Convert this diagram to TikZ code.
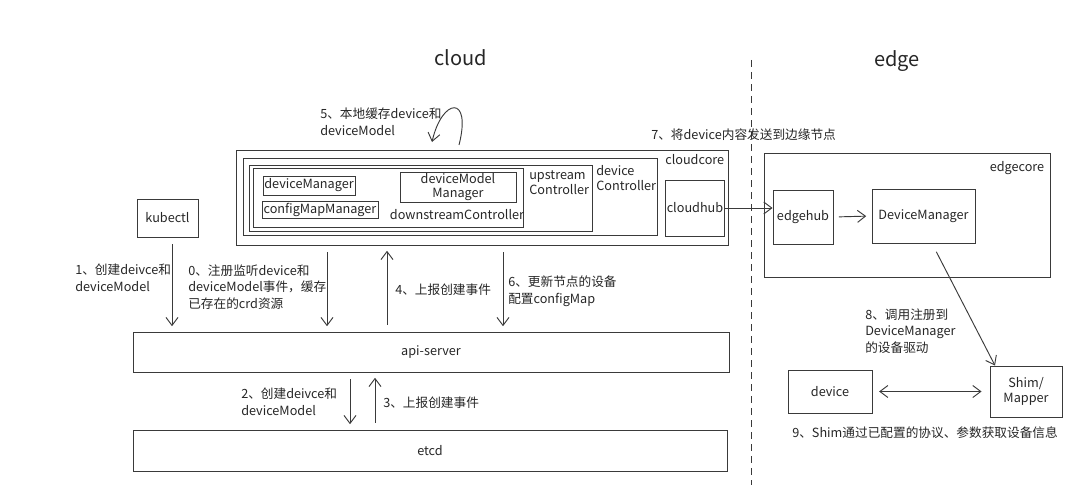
\documentclass[tikz,border=0pt]{standalone}
\usepackage{fontspec}
\setmainfont{Noto Sans CJK SC}
\usepackage{tikz}
\usetikzlibrary{
    arrows.meta,
    calc,
    positioning
}
\definecolor{inkgray}{HTML}{3A3A3A}
\tikzset{
    box/.style={draw=inkgray, line width=0.7pt, inner sep=1pt, align=center},
    lbl/.style={align=left, anchor=west, inner sep=0pt},
    barb/.tip={Straight Barb[length=6pt, width=9pt]},
    flow/.style={-barb, draw=inkgray, line width=0.7pt},
    every node/.style={font=\fontsize{9.5}{12.5}\selectfont, text=black!85}
}

\begin{document}
\begin{tikzpicture}[x=0.75pt, y=-0.75pt]
                        \useasboundingbox (0, 0) rectangle (1080, 485);
                        \node (cloudtitle) at (461, 58) {\fontsize{15}{18}\selectfont cloud};
                        \node (edgetitle) at (897, 61) {\fontsize{15}{18}\selectfont edge};
                        \coordinate (splittop) at (751, 60);
                        \coordinate (splitbot) at (751, 485);
                        \draw[inkgray, line width=0.7pt, dash pattern=on 5pt off 4pt] (splittop) -- (splitbot);
                        \begin{scope}
                            \node[box, minimum width=369pt, minimum height=71.25pt] (cloudcore) at (482, 197.5) {};
                            \node[box, minimum width=310.5pt, minimum height=57.75pt] (devctl) at (450, 196.5) {};
                            \node[box, minimum width=257.25pt, minimum height=49.5pt] (upctl) at (420.5, 198) {};
                            \node[box, minimum width=202.5pt, minimum height=44.25pt] (downctl) at (388, 197.5) {};
                            \node[box, minimum width=69pt, minimum height=14.25pt] (devmgr) at (309, 185.5) {deviceManager};
                            \node[box, minimum width=87pt, minimum height=12pt] (cfgmgr) at (320, 210) {configMapManager};
                            \node[box, minimum width=87pt, minimum height=22.5pt, font=\fontsize{9.5}{10.5}\selectfont] (dmmgr) at (458, 187) {deviceModel\\Manager};
                            \node[inner sep=0pt] (downtxt) at (457, 215) {downstreamController};
                            \node[lbl, font=\fontsize{9.5}{11.5}\selectfont] (uptxt) at (529, 183) {upstream\\Controller};
                            \node[lbl, font=\fontsize{9.5}{11.5}\selectfont] (ctltxt) at (596, 178) {device\\Controller};
                            \node[inner sep=0pt, anchor=north east] (coretxt) at ($(cloudcore.north east)+(-4, 5)$) {cloudcore};
                            \node[box, minimum width=42pt, minimum height=42pt] (cloudhub) at (695, 208) {cloudhub};
                        \end{scope}
                        \begin{scope}
                            \node[box, minimum width=214.5pt, minimum height=93pt] (edgecore) at (907, 215) {};
                            \node[inner sep=0pt, anchor=north east] (edgetxt) at ($(edgecore.north east)+(-6, 9)$) {edgecore};
                            \node[box, minimum width=45pt, minimum height=40.5pt] (edgehub) at (803, 217) {edgehub};
                            \node[box, minimum width=77.25pt, minimum height=40.5pt] (devmanager) at (923.5, 216) {DeviceManager};
                            \node[box, minimum width=63pt, minimum height=32.25pt] (device) at (830, 391.5) {device};
                            \node[box, minimum width=54pt, minimum height=38.25pt, font=\fontsize{9.5}{11.5}\selectfont] (shim) at (1026, 391.5) {Shim/\\Mapper};
                        \end{scope}
                        \node[box, minimum width=45.75pt, minimum height=28.5pt] (kubectl) at (167.5, 218) {kubectl};
                        \node[box, minimum width=447pt, minimum height=30pt] (api) at (431, 352) {api-server};
                        \node[box, minimum width=445.5pt, minimum height=30.75pt] (etcd) at (430, 450.5) {etcd};
                        % step labels
                        \node[lbl] (s1) at (75, 278) {1、创建deivce和\\deviceModel};
                        \node[lbl] (s0) at (188, 287) {0、注册监听device和\\deviceModel事件，缓存\\已存在的crd资源};
                        \node[lbl] (s4) at (395, 290) {4、上报创建事件};
                        \node[lbl] (s6) at (508, 291) {6、更新节点的设备\\配置configMap};
                        \node[lbl] (s2) at (241, 402) {2、创建deivce和\\deviceModel};
                        \node[lbl] (s3) at (383, 403) {3、上报创建事件};
                        \node[lbl] (s5) at (320, 122) {5、本地缓存device和\\deviceModel};
                        \node[lbl] (s7) at (651, 135) {7、将device内容发送到边缘节点};
                        \node[lbl] (s8) at (865, 331) {8、调用注册到\\DeviceManager\\的设备驱动};
                        \node[inner sep=0pt] (s9) at (925, 433) {9、Shim通过已配置的协议、参数获取设备信息};
                        \coordinate (loopA) at (459, 145);
                        \coordinate (loopB) at (432, 142);
                        \draw[flow] (loopA) .. controls (472, 94) and (442, 98) .. (loopB);
                        \draw[shorten <=5pt, shorten >=4pt]
                        (172, 0 |- kubectl.south) edge[flow] (172, 0 |- api.north)
                        (327, 0 |- cloudcore.south) edge[flow] (327, 0 |- api.north)
                        (387, 0 |- api.north) edge[flow] (387, 0 |- cloudcore.south)
                        (503, 0 |- cloudcore.south) edge[flow] (503, 0 |- api.north)
                        (350, 0 |- api.south) edge[flow] (350, 0 |- etcd.north)
                        (375, 0 |- etcd.north) edge[flow] (375, 0 |- api.south);
                        \draw
                        (cloudhub.east) edge[flow] (cloudhub.east -| edgehub.west)
                        (edgehub.east) edge[flow, shorten <=4pt, shorten >=4pt] (devmanager.west)
                        (932, 0 |- devmanager.south) edge[flow, shorten <=7pt] (995, 0 |- shim.north)
                        (device.east) edge[flow, barb-barb, shorten <=5pt, shorten >=6pt] (shim.west);
                    \end{tikzpicture}
\end{document}
